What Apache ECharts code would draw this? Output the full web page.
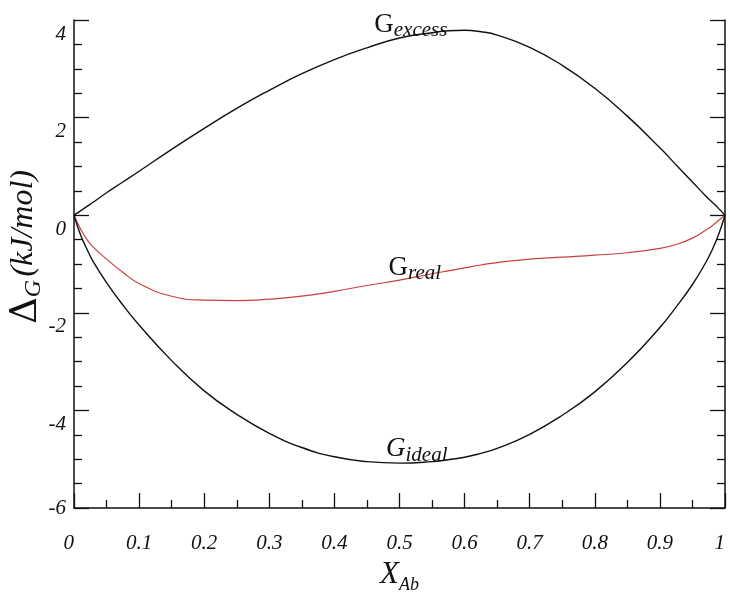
<!DOCTYPE html>
<html>
<head>
<meta charset="utf-8">
<script src="https://cdn.jsdelivr.net/npm/echarts@6/dist/echarts.min.js"></script>
<style>
  html, body { margin: 0; padding: 0; background: #fff; }
  #chart { width: 730px; height: 592px; }
</style>
</head>
<body>
<div id="chart"></div>
<script>
// Mole fraction of albite
const xAb = [0, 0.01, 0.02, 0.03, 0.05, 0.075, 0.1, 0.15, 0.2, 0.25, 0.3, 0.35, 0.4, 0.45, 0.5,
             0.55, 0.575, 0.6, 0.625, 0.65, 0.7, 0.75, 0.8, 0.85, 0.9, 0.925, 0.95, 0.97, 0.98, 0.99, 1];

// Gibbs energies of mixing (kJ/mol)
const gExcess = [0, 0.09, 0.18, 0.27, 0.46, 0.68, 0.90, 1.35, 1.78, 2.19, 2.56, 2.90, 3.19, 3.43, 3.63,
                 3.74, 3.78, 3.79, 3.76, 3.69, 3.44, 3.07, 2.60, 2.03, 1.38, 1.03, 0.68, 0.40, 0.27, 0.14, 0];
const gReal   = [0, -0.28, -0.50, -0.66, -0.90, -1.17, -1.40, -1.66, -1.74, -1.75, -1.72, -1.66, -1.56, -1.44, -1.33,
                 -1.20, -1.14, -1.08, -1.02, -0.97, -0.90, -0.86, -0.82, -0.77, -0.68, -0.60, -0.47, -0.31, -0.22, -0.11, 0];
const gIdeal  = [0, -0.40, -0.70, -0.96, -1.38, -1.84, -2.25, -2.98, -3.60, -4.08, -4.47, -4.76, -4.95, -5.05, -5.08,
                 -5.05, -5.01, -4.96, -4.88, -4.78, -4.49, -4.10, -3.62, -3.02, -2.30, -1.88, -1.42, -0.98, -0.72, -0.40, 0];

// Curve annotations: [x, y] anchor (data units, bottom-left of the text box)
const labelExcess = { at: [0.462, 3.56], main: 'G', sub: 'excess' };
const labelReal   = { at: [0.484, -1.42], main: 'G', sub: 'real' };
const labelIdeal  = { at: [0.480, -5.14], main: 'G', sub: 'ideal' };

// Axis ranges and steps
const xRange = [0, 1], xStep = 0.1;
const yRange = [-6, 4], yStep = 2;

const serif = '"Liberation Serif", "DejaVu Serif", serif';
const ink = '#111111';
const redInk = '#c8403f';

function pairs(ys) { return xAb.map((x, i) => [x, ys[i]]); }

function curveLabel(lbl, subLineHeight, mainItalic) {
  return {
    symbol: 'circle', symbolSize: 1, silent: true,
    itemStyle: { color: 'rgba(0,0,0,0)' },
    data: [{ coord: lbl.at }],
    label: {
      show: true,
      position: [0, 0], align: 'left', verticalAlign: 'bottom',
      formatter: '{m|' + lbl.main + '}{s|' + lbl.sub + '}',
      rich: {
        m: { fontFamily: serif, fontSize: 27, fontStyle: mainItalic ? 'italic' : 'normal', color: '#111',
             lineHeight: 30, verticalAlign: 'top' },
        s: { fontFamily: serif, fontSize: 21, fontStyle: 'italic', color: '#111',
             lineHeight: subLineHeight, verticalAlign: 'bottom' }
      }
    }
  };
}

const chart = echarts.init(document.getElementById('chart'), null, { renderer: 'canvas' });

const tickStyle = { color: ink, width: 1.3 };
const lineStyle = { color: ink, width: 1.5 };

chart.setOption({
  animation: false,
  backgroundColor: '#fff',
  grid: { left: 74, right: 5, top: 20, bottom: 84, containLabel: false, outerBoundsMode: 'none' },
  xAxis: {
    type: 'value', min: xRange[0], max: xRange[1], interval: xStep,
    axisLine: { show: true, onZero: false, lineStyle: lineStyle },
    axisTick: { show: true, inside: true, length: 15, lineStyle: tickStyle },
    minorTick: { show: true, splitNumber: 2, length: 8, lineStyle: tickStyle },
    splitLine: { show: false },
    axisLabel: {
      margin: 25,
      alignMinLabel: 'right',
      alignMaxLabel: 'right',
      fontFamily: serif, fontStyle: 'italic', fontSize: 21, color: '#111',
      formatter: v => (v === 0 || v === 1) ? String(v) : v.toFixed(1)
    },
    name: '{x|X}{s|Ab}',
    nameLocation: 'middle',
    nameGap: 51,
    nameMoveOverlap: false,
    nameTextStyle: {
      rich: {
        x: { fontFamily: serif, fontStyle: 'italic', fontSize: 31, color: '#111', lineHeight: 32, verticalAlign: 'top' },
        s: { fontFamily: serif, fontStyle: 'italic', fontSize: 18, color: '#111', lineHeight: 35, verticalAlign: 'bottom' }
      }
    }
  },
  yAxis: [
    {
      type: 'value', min: yRange[0], max: yRange[1], interval: yStep, position: 'left',
      axisLine: { show: true, onZero: false, lineStyle: lineStyle },
      axisTick: { show: true, inside: true, length: 15, lineStyle: tickStyle },
      minorTick: { show: true, splitNumber: 4, length: 8, lineStyle: tickStyle },
      splitLine: { show: false },
      axisLabel: {
        margin: 8,
        verticalAlign: 'middle',
        verticalAlignMinLabel: 'middle',
        verticalAlignMaxLabel: 'middle',
        formatter: v => (v === yRange[0] ? '{b|' : '{a|') + String(v) + '}',
        rich: {
          a: { fontFamily: serif, fontStyle: 'italic', fontSize: 21, color: '#111', padding: [28, 0, 0, 0] },
          b: { fontFamily: serif, fontStyle: 'italic', fontSize: 21, color: '#111' }
        }
      },
      name: '{d|Δ}{g|G} {u|(kJ/mol)}',
      nameLocation: 'middle',
      nameRotate: 90,
      nameGap: 28,
      nameMoveOverlap: false,
      nameTextStyle: {
        padding: [0, 0, 0, 34],
        rich: {
          d: { fontFamily: '"DejaVu Serif", serif', fontSize: 37, color: '#111', lineHeight: 38, verticalAlign: 'top' },
          g: { fontFamily: serif, fontStyle: 'italic', fontSize: 24, color: '#111', lineHeight: 38, verticalAlign: 'bottom' },
          u: { fontFamily: serif, fontStyle: 'italic', fontSize: 32, color: '#111', lineHeight: 38, verticalAlign: 'top' }
        }
      }
    },
    {
      type: 'value', min: yRange[0], max: yRange[1], interval: yStep, position: 'right',
      axisLine: { show: true, onZero: false, lineStyle: lineStyle },
      axisTick: { show: true, inside: true, length: 15, lineStyle: tickStyle },
      minorTick: { show: true, splitNumber: 4, length: 8, lineStyle: tickStyle },
      splitLine: { show: false },
      axisLabel: { show: false }
    }
  ],
  series: [
    {
      name: 'Gexcess', type: 'line', data: pairs(gExcess), smooth: 0.5,
      showSymbol: false, lineStyle: { color: ink, width: 1.4 },
      markPoint: curveLabel(labelExcess, 20, false)
    },
    {
      name: 'Greal', type: 'line', data: pairs(gReal), smooth: 0.5,
      showSymbol: false, lineStyle: { color: redInk, width: 1.2 },
      markPoint: curveLabel(labelReal, 30, false)
    },
    {
      name: 'Gideal', type: 'line', data: pairs(gIdeal), smooth: 0.5,
      showSymbol: false, lineStyle: { color: ink, width: 1.4 },
      markPoint: curveLabel(labelIdeal, 26, true)
    }
  ]
});
</script>
</body>
</html>
